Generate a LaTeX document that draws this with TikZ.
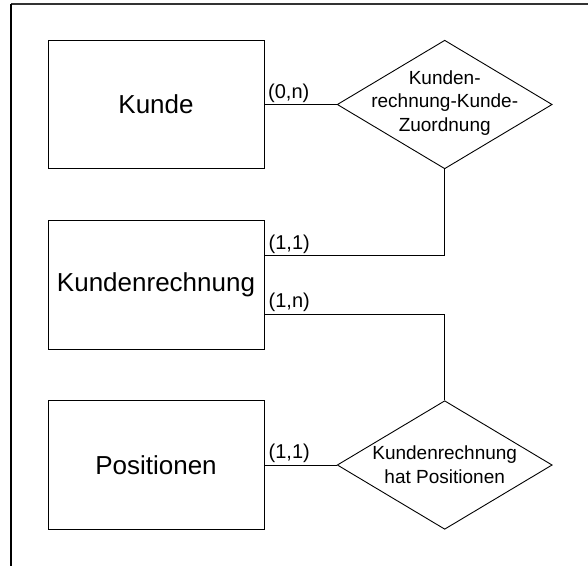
\documentclass[tikz,border=0pt]{standalone}
\usepackage{fontspec}
\setmainfont{Liberation Sans}
\usetikzlibrary{shapes.geometric}
\tikzset{
  entity/.style={draw, line width=1pt, minimum width=216pt, minimum height=128.6pt, inner sep=0pt, font=\fontsize{26}{30}\selectfont},
  relship/.style={draw, diamond, line width=0.9pt, minimum width=215pt, minimum height=128.6pt, inner sep=0pt},
  reltext/.style={align=center, inner sep=0pt, font=\fontsize{19}{23.7}\selectfont},
  card/.style={anchor=base west, inner sep=0pt, font=\fontsize{20}{24}\selectfont},
  conn/.style={line width=0.9pt},
  frame/.style={line width=1.3pt}
}
\begin{document}
\begin{tikzpicture}[x=1pt,y=-1pt]
\useasboundingbox (0,0) rectangle (588,566);
% frame
\coordinate (ftl) at (11,4);
\coordinate (ftr) at (588,4);
\coordinate (fbl) at (11,566);
\draw[frame, black!80] (ftl) -- (ftr);
\draw[frame] (ftl) -- (fbl);
% entities
\node[entity] (kunde) at (156,104.5) {Kunde};
\node[entity] (krech) at (156,285) {Kundenrechnung};
\node[entity] (pos) at (156,465) {Positionen};
% relationships
\node[relship] (r1) at (444.7,104.5) {};
\node[reltext] (r1t) at (444.7,103) {Kunden-\\rechnung-Kunde-\\Zuordnung};
\node[relship] (r2) at (444.7,465) {};
\node[reltext] (r2t) at (444.7,465) {Kundenrechnung\\hat Positionen};
% connectors
\coordinate (kr1) at (264,255);
\coordinate (kr2) at (264,314);
\draw[conn] (kunde.east) -- (r1.west);
\draw[conn] (r1.south) |- (kr1);
\draw[conn] (kr2) -| (r2.north);
\draw[conn] (pos.east) -- (r2.west);
% cardinalities
\node[card] (c1) at (268,98.7) {(0,n)};
\node[card] (c2) at (268.5,249.5) {(1,1)};
\node[card] (c3) at (268.5,307.5) {(1,n)};
\node[card] (c4) at (268.5,458.5) {(1,1)};
\end{tikzpicture}
\end{document}
